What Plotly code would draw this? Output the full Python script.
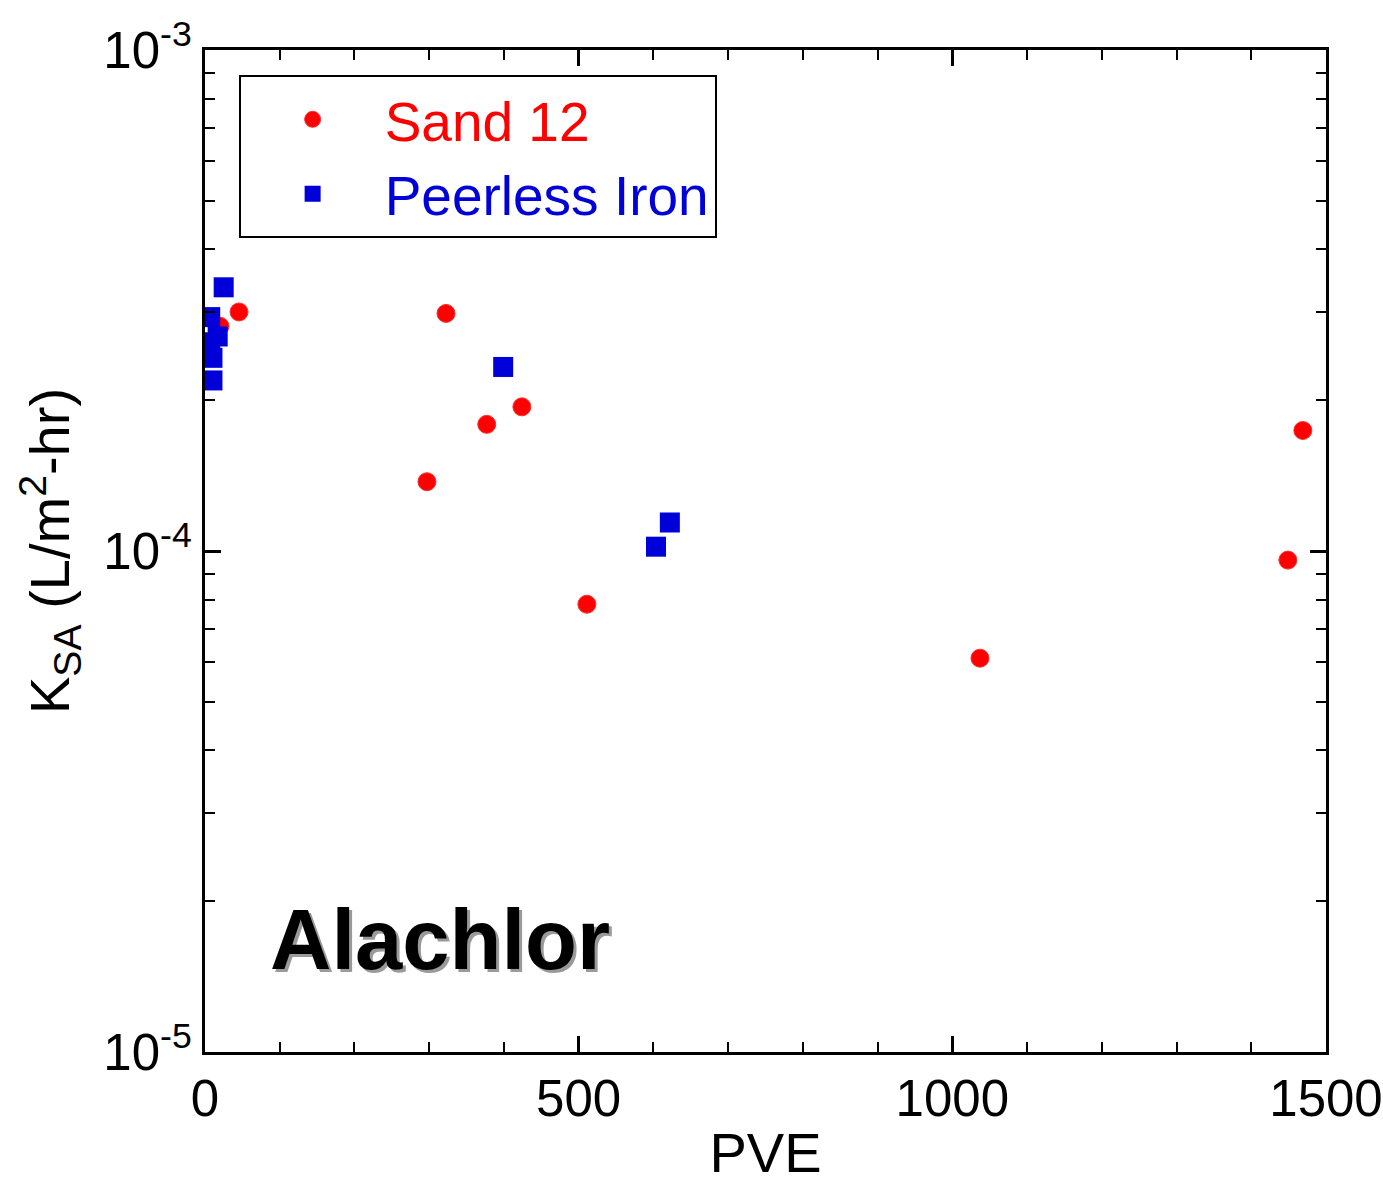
import plotly.graph_objects as go

sand_pve = [20, 45.5, 297, 322.5, 377, 424, 511, 1037, 1449, 1469]
sand_k = [2.81e-4, 3.00e-4, 1.375e-4, 2.98e-4, 1.79e-4, 1.94e-4, 7.83e-5, 6.11e-5, 9.59e-5, 1.74e-4]

iron_pve = [25, 7, 17, 7, 10, 10, 399, 603.5, 622]
iron_k = [3.36e-4, 2.93e-4, 2.68e-4, 2.61e-4, 2.43e-4, 2.19e-4, 2.33e-4, 1.02e-4, 1.14e-4]

y_tickvals = [1e-5, 1e-4, 1e-3]
y_ticktext = ["10<sup>-5</sup>", "10<sup>-4</sup>", "10<sup>-3</sup>"]
x_tickvals = [0, 500, 1000, 1500]

FONT = "Liberation Sans, Arial, sans-serif"

fig = go.Figure()
fig.add_trace(go.Scatter(
    x=sand_pve, y=sand_k, mode="markers",
    name='<span style="color:#ff0000">Sand 12</span>',
    marker=dict(symbol="circle", size=18, color="#ff0000", line=dict(width=1, color="#ff3030")),
))
fig.add_trace(go.Scatter(
    x=iron_pve, y=iron_k, mode="markers",
    name='<span style="color:#0000d8">Peerless Iron</span>',
    marker=dict(symbol="square", size=20, color="#0000d8", line=dict(width=0)),
))

axis_common = dict(
    showline=True, linecolor="black", linewidth=3, mirror="ticks",
    ticks="inside", tickcolor="black", showgrid=False, zeroline=False,
    tickfont=dict(family=FONT, size=51, color="black"), automargin=False,
)

fig.update_xaxes(
    range=[0, 1500], tickmode="array", tickvals=x_tickvals,
    ticklen=16, tickwidth=3, ticklabeloverflow="allow",
    minor=dict(ticks="inside", dtick=100, ticklen=10, tickwidth=2, tickcolor="black", showgrid=False),
    title=dict(text="PVE", font=dict(family=FONT, size=56, color="black"), standoff=20),
    **axis_common,
)
fig.update_yaxes(
    type="log", range=[-5, -3], tickmode="array", tickvals=y_tickvals, ticktext=y_ticktext,
    ticklen=16, tickwidth=3, ticklabeloverflow="allow",
    minor=dict(ticks="inside", dtick="D1", ticklen=10, tickwidth=2, tickcolor="black", showgrid=False),
    title=dict(text="K<sub>SA</sub> (L/m<sup>2</sup>-hr)", font=dict(family=FONT, size=56, color="black"), standoff=16),
    **axis_common,
)

fig.add_annotation(x=0.056, y=0.112, xref="paper", yref="paper", text="<b>Alachlor</b>",
                   showarrow=False, font=dict(family=FONT, size=85, color="#9a9a9a"),
                   xanchor="left", yanchor="middle", xshift=3, yshift=-3)
fig.add_annotation(x=0.056, y=0.112, xref="paper", yref="paper", text="<b>Alachlor</b>",
                   showarrow=False, font=dict(family=FONT, size=85, color="black"),
                   xanchor="left", yanchor="middle")

fig.update_layout(
    width=1383, height=1184,
    margin=dict(l=205, r=57, t=50, b=132, autoexpand=False),
    paper_bgcolor="white", plot_bgcolor="white",
    font=dict(family=FONT, color="black"),
    legend=dict(
        x=0.03, y=0.975, xanchor="left", yanchor="top",
        bordercolor="black", borderwidth=2, bgcolor="white",
        font=dict(family=FONT, size=55), itemwidth=134,
    ),
)

fig.write_html("out.html")
